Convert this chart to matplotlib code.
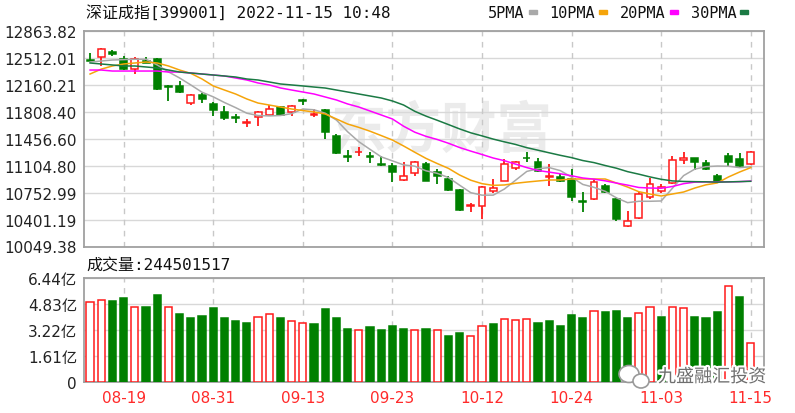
import numpy as np
import matplotlib.pyplot as plt
import matplotlib.patheffects as pe
from matplotlib.patches import Rectangle, Ellipse

plt.rcParams['font.family'] = ['DejaVu Sans', 'Noto Sans CJK SC']

# trading days shown on the chart
dates = ['08-16', '08-17', '08-18', '08-19', '08-22', '08-23', '08-24', '08-25', '08-26', '08-29',
         '08-30', '08-31', '09-01', '09-02', '09-05', '09-06', '09-07', '09-08', '09-09', '09-13',
         '09-14', '09-15', '09-16', '09-19', '09-20', '09-21', '09-22', '09-23', '09-26', '09-27',
         '09-28', '09-29', '09-30', '10-10', '10-11', '10-12', '10-13', '10-14', '10-17', '10-18',
         '10-19', '10-20', '10-21', '10-24', '10-25', '10-26', '10-27', '10-28', '10-31', '11-01',
         '11-02', '11-03', '11-04', '11-07', '11-08', '11-09', '11-10', '11-11', '11-14', '11-15']
shown_dates = ['08-19', '08-31', '09-13', '09-23', '10-12', '10-24', '11-03', '11-15']

opens = [12480, 12524, 12590, 12498, 12367, 12470, 12498, 12150, 12146, 11923,
         12028, 11910, 11806, 11740, 11660, 11740, 11767, 11871, 11806, 11960,
         11770, 11832, 11493, 11230, 11280, 11235, 11130, 11100, 10918, 11009,
         11127, 11022, 10931, 10787, 10575, 10578, 10774, 10905, 11075, 11210,
         11153, 10960, 10957, 10931, 10640, 10670, 10840, 10670, 10317, 10421,
         10696, 10774, 10879, 11185, 11205, 11140, 10970, 11231, 11192, 11127]
highs = [12580, 12642, 12610, 12537, 12524, 12530, 12510, 12165, 12210, 12041,
         12054, 11936, 11884, 11780, 11714, 11820, 11897, 11880, 11897, 11976,
         11845, 11845, 11519, 11310, 11349, 11280, 11230, 11140, 11153, 11165,
         11153, 11062, 10970, 10800, 10617, 10840, 10931, 11192, 11165, 11283,
         11205, 11127, 10996, 11062, 10761, 10931, 10866, 10696, 10513, 10761,
         10944, 10866, 11231, 11283, 11210, 11180, 10990, 11270, 11270, 11300]
lows = [12460, 12407, 12540, 12355, 12302, 12440, 12095, 11950, 12055, 11897,
        11923, 11754, 11701, 11662, 11610, 11623, 11754, 11760, 11754, 11897,
        11740, 11453, 11257, 11153, 11230, 11140, 11100, 10890, 10905, 10970,
        10900, 10866, 10780, 10510, 10500, 10408, 10748, 10900, 11050, 11150,
        11023, 10840, 10890, 10644, 10500, 10660, 10748, 10382, 10303, 10408,
        10670, 10748, 10866, 11127, 11050, 11050, 10890, 11100, 11075, 11110]
closes = [12470, 12629, 12560, 12367, 12498, 12450, 12106, 12135, 12067, 12028,
          11976, 11832, 11728, 11725, 11675, 11806, 11845, 11767, 11884, 11945,
          11785, 11545, 11270, 11220, 11290, 11220, 11115, 11020, 10970, 11153,
          10905, 10970, 10787, 10526, 10590, 10826, 10813, 11127, 11153, 11205,
          11036, 10970, 10905, 10696, 10630, 10892, 10761, 10408, 10382, 10735,
          10866, 10826, 11179, 11200, 11153, 11062, 10905, 11153, 11100, 11283]

ma5 = [12459, 12472, 12485, 12490, 12495, 12495, 12420, 12330, 12250, 12159,
       12064, 12004, 11930, 11863, 11790, 11760, 11755, 11760, 11785, 11845,
       11835, 11790, 11701, 11548, 11418, 11318, 11220, 11168, 11115, 11098,
       11038, 11005, 10950, 10850, 10752, 10720, 10720, 10800, 10915, 11030,
       11065, 11080, 11040, 10955, 10860, 10822, 10770, 10685, 10622, 10640,
       10640, 10644, 10810, 10975, 11060, 11092, 11100, 11098, 11080, 11090]
ma10 = [12302, 12366, 12407, 12433, 12446, 12459, 12446, 12407, 12354, 12310,
        12237, 12146, 12093, 12041, 11976, 11923, 11897, 11871, 11845, 11825,
        11806, 11780, 11715, 11649, 11605, 11555, 11498, 11440, 11362, 11280,
        11200, 11133, 11070, 10983, 10915, 10870, 10848, 10853, 10875, 10891,
        10905, 10918, 10918, 10931, 10931, 10931, 10931, 10879, 10826, 10765,
        10735, 10709, 10735, 10761, 10813, 10855, 10879, 10957, 11022, 11080]
ma20 = [12354, 12354, 12341, 12341, 12341, 12341, 12341, 12328, 12328, 12315,
        12302, 12289, 12276, 12250, 12224, 12185, 12159, 12120, 12093, 12067,
        12041, 12002, 11963, 11911, 11871, 11819, 11767, 11715, 11620, 11542,
        11488, 11447, 11398, 11342, 11295, 11251, 11205, 11170, 11125, 11080,
        11042, 11021, 10999, 10973, 10944, 10929, 10907, 10878, 10851, 10820,
        10813, 10810, 10833, 10870, 10890, 10893, 10893, 10894, 10896, 10904]
ma30 = [12446, 12433, 12420, 12407, 12407, 12394, 12381, 12354, 12328, 12315,
        12302, 12289, 12276, 12263, 12237, 12224, 12198, 12172, 12159, 12146,
        12132, 12119, 12093, 12067, 12041, 12015, 11989, 11950, 11897, 11815,
        11752, 11698, 11642, 11585, 11534, 11494, 11452, 11416, 11382, 11340,
        11307, 11273, 11240, 11210, 11172, 11145, 11107, 11072, 11027, 10994,
        10958, 10927, 10906, 10899, 10896, 10894, 10890, 10893, 10897, 10901]

# volume in 亿 (1e8) and whether the bar is drawn red (close above previous close)
volume = [4.93, 5.09, 5.03, 5.21, 4.66, 4.66, 5.41, 4.66, 4.21, 3.94,
          4.11, 4.56, 3.94, 3.76, 3.65, 4.00, 4.19, 3.94, 3.76, 3.65,
          3.57, 4.50, 3.94, 3.28, 3.20, 3.39, 3.20, 3.47, 3.28, 3.19,
          3.28, 3.19, 2.84, 3.02, 2.82, 3.47, 3.57, 3.92, 3.85, 3.92,
          3.65, 3.76, 3.47, 4.13, 3.94, 4.40, 4.32, 4.40, 3.94, 4.30,
          4.66, 4.03, 4.66, 4.56, 4.03, 3.94, 4.32, 5.97, 5.25, 2.42]
vol_up = [1, 1, 0, 0, 1, 0, 0, 1, 0, 0,
          0, 0, 0, 0, 0, 1, 1, 0, 1, 1,
          0, 0, 0, 0, 1, 0, 0, 0, 0, 1,
          0, 1, 0, 0, 1, 1, 0, 1, 1, 1,
          0, 0, 0, 0, 0, 1, 0, 0, 0, 1,
          1, 0, 1, 1, 0, 0, 0, 1, 0, 1]

price_ticks = [10049.38, 10401.19, 10752.99, 11104.80, 11456.60,
               11808.40, 12160.21, 12512.01, 12863.82]
vol_ticks = [0, 1.61, 3.22, 4.83, 6.44]
ma_names = ['5PMA', '10PMA', '20PMA', '30PMA']
ma_colors = ['#a9a9a9', '#f5a40a', '#ff00ff', '#1b7a44']

RED = '#ff1a1a'
GREEN = '#008000'
GRID = '#d8d8d8'
FRAME = '#a0a0a0'

W, H = 795, 414
fig = plt.figure(figsize=(W / 100, H / 100), dpi=100)


def fx(px):
    return px / W


def fy(py):
    return 1 - py / H


ax = fig.add_axes([fx(84), fy(247.5), fx(764) - fx(84), fy(32) - fy(247.5)])
axv = fig.add_axes([fx(84), fy(383), fx(764) - fx(84), fy(279) - fy(383)])

x = np.arange(len(dates))
o, h, l, c = map(np.array, (opens, highs, lows, closes))
rise = c >= o
cols = [RED if r else GREEN for r in rise]
faces = ['white' if r else GREEN for r in rise]

# candles
ax.vlines(x, l, h, colors=cols, lw=1.3, zorder=3)
ax.bar(x, np.maximum(np.abs(c - o), 6), bottom=np.minimum(o, c), width=0.62,
       color=faces, edgecolor=cols, lw=1.1, zorder=4)

for vals, colr in zip([ma5, ma10, ma20, ma30], ma_colors):
    ax.plot(x, vals, color=colr, lw=1.1, zorder=5)

# volume
vcols = [RED if u else GREEN for u in vol_up]
vfaces = ['white' if u else GREEN for u in vol_up]
axv.bar(x, volume, width=0.64, color=vfaces, edgecolor=vcols, lw=1.1, zorder=3)

tick_pos = [dates.index(d) for d in shown_dates]
for a in (ax, axv):
    a.set_xlim(-0.54, 60.18)
    a.set_axisbelow(True)
    a.grid(axis='y', color=GRID, lw=1)
    for p in tick_pos:
        a.axvline(p, color='#c8c8c8', lw=1, ls=(0, (4, 4)), zorder=1)
    for s in a.spines.values():
        s.set_color(FRAME)
        s.set_linewidth(1.3)
    a.tick_params(length=0, pad=5, labelsize=11, labelcolor='#222222')

ax.set_ylim(price_ticks[0], price_ticks[-1])
ax.set_yticks(price_ticks)
ax.set_yticklabels([f'{v:.2f}' for v in price_ticks])
ax.set_xticks([])

axv.set_ylim(0, vol_ticks[-1])
axv.set_yticks(vol_ticks)
axv.set_yticklabels(['0' if v == 0 else f'{v:.2f}亿' for v in vol_ticks])
axv.set_xticks(tick_pos)
axv.set_xticklabels(shown_dates, color='#ff2a2a')
axv.tick_params(axis='x', pad=6)

# faint watermark of the data source
ax.text(fx(442), fy(132), '东方财富', transform=fig.transFigure, fontsize=40,
        fontweight='bold', color='#ebebeb', ha='center', va='center',
        family='Noto Sans CJK SC', zorder=0.5)

# headers
mono = ['DejaVu Sans Mono', 'Noto Sans CJK SC']
fig.text(fx(86), fy(13), '深证成指[399001] 2022-11-15 10:48', fontsize=11.5,
         family=mono, va='center', ha='left', color='#111111')
fig.text(fx(86), fy(265), '成交量:244501517', fontsize=11.5,
         family=mono, va='center', ha='left', color='#111111')

# legend: label then a small colour block
fig.canvas.draw()
rend = fig.canvas.get_renderer()
cur = 488
for name, colr in zip(ma_names, ma_colors):
    t = fig.text(fx(cur), fy(13), name, fontsize=11, family='DejaVu Sans Mono',
                 va='center', ha='left', color='#111111')
    ext = t.get_window_extent(rend)
    x1 = ext.x1 + 4
    fig.patches.append(Rectangle((fx(x1), fy(15)), fx(8), 4 / H, color=colr,
                                 transform=fig.transFigure, figure=fig))
    cur = x1 + 8 + 13

# bottom right account mark
for (ex, ey, ew, eh) in [(629, 375, 20, 17), (641, 382, 16, 14)]:
    fig.patches.append(Ellipse((fx(ex), fy(ey)), ew / W, eh / H, facecolor='white',
                               edgecolor='#9a9a9a', lw=1.2,
                               transform=fig.transFigure, figure=fig))
fig.text(fx(712), fy(378), '九盛融汇投资', fontsize=13, family='Noto Sans CJK SC',
         color='#6f6f6f', ha='center', va='center',
         path_effects=[pe.withStroke(linewidth=3, foreground='white')])

fig.savefig('out.png', dpi=100)
